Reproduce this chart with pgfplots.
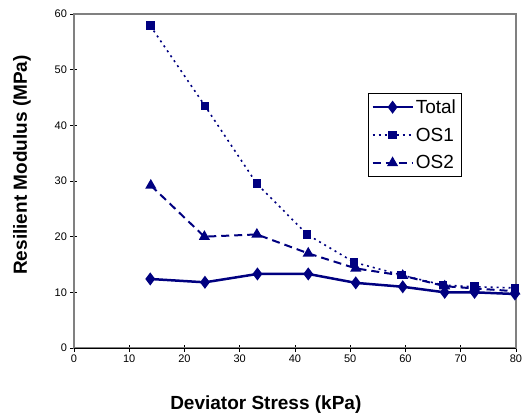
\documentclass[border=0pt]{standalone}
\usepackage{fontspec}
\setmainfont{Liberation Sans}
\usepackage{pgfplots}
\pgfplotsset{compat=1.18}
\definecolor{navy}{RGB}{0,0,128}
\definecolor{framegray}{RGB}{128,128,128}

\begin{document}
\begin{tikzpicture}
\begin{axis}[
  scale only axis,
  width=442bp, height=334bp,
  xmin=0, xmax=80, ymin=0, ymax=60,
  xtick={0,10,...,80}, ytick={0,10,...,60},
  xtick pos=bottom, ytick pos=left,
  tick align=center, major tick length=7bp,
  tick style={black, line width=0.8bp},
  axis line style={draw=framegray, line width=2.5bp},
  ticklabel style={font=\fontsize{11bp}{13bp}\selectfont},
  /pgf/number format/assume math mode=true,
  xlabel={\textbf{Deviator Stress (kPa)}},
  ylabel={\textbf{Resilient Modulus (MPa)}},
  every axis x label/.style={at={(rel axis cs:0.434,0)}, anchor=center, yshift=-57bp,
    font=\fontsize{19bp}{22bp}\selectfont},
  every axis y label/.style={at={(rel axis cs:0,0.548)}, anchor=center, rotate=90, yshift=52bp,
    font=\fontsize{19bp}{22bp}\selectfont},
  clip=false,
  legend style={at={(rel axis cs:0.665,0.763)}, anchor=north west,
    draw=black, line width=0.8bp, font=\fontsize{19bp}{22bp}\selectfont,
    inner xsep=3bp, inner ysep=4bp, row sep=9bp, cells={anchor=west}},
  legend image code/.code={
    \draw[mark repeat=2,mark phase=2,#1] plot coordinates {(0bp,0bp)(20bp,0bp)(40bp,0bp)};
  },
]
\addplot[navy, line width=2.5bp, mark=diamond*, mark size=4.5bp, mark options={solid}]
  coordinates {(13.8,12.4)(23.7,11.8)(33.2,13.3)(42.4,13.3)(51.0,11.7)(59.5,11.0)(67.1,10.0)(72.5,10.0)(79.8,9.7)};
\addlegendentry{Total}
\addplot[navy, line width=1.6bp, dash pattern=on 2bp off 4bp, mark=square*, mark size=3.5bp, mark options={solid}]
  coordinates {(13.8,57.9)(23.7,43.5)(33.1,29.5)(42.2,20.4)(50.7,15.4)(59.3,13.1)(66.8,11.3)(72.5,11.0)(79.8,10.8)};
\addlegendentry{OS1}
\addplot[navy, line width=2bp, dash pattern=on 8bp off 5bp, mark=triangle*, mark size=4.5bp, mark options={solid}]
  coordinates {(13.9,29.2)(23.6,20.0)(33.1,20.4)(42.4,17.0)(51.0,14.3)(59.5,13.0)(67.1,11.1)(72.5,10.7)(79.8,10.2)};
\addlegendentry{OS2}
\draw[black, line width=1bp] (rel axis cs:0,0) -- (rel axis cs:1,0);
\end{axis}
\pgfresetboundingbox
\path (current axis.south west) ++(-74bp,-67bp) rectangle ++(524bp,415bp);
\end{tikzpicture}
\end{document}
